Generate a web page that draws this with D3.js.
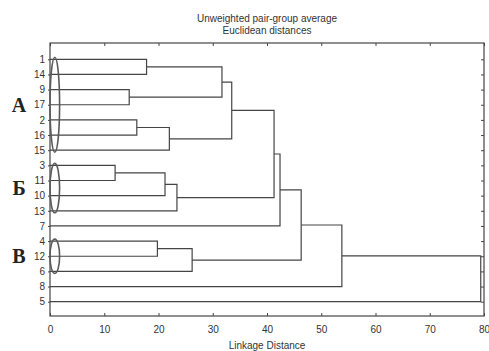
<!DOCTYPE html>
<html>
<head>
<meta charset="utf-8">
<script src="https://cdn.jsdelivr.net/npm/d3@7"></script>
<style>
  html, body { margin: 0; padding: 0; background: #fff; }
  svg { display: block; }
</style>
</head>
<body>
<svg id="chart" width="489" height="351"></svg>
<script>
// ---- data ----
const title1 = "Unweighted pair-group average";
const title2 = "Euclidean distances";
const xAxisTitle = "Linkage Distance";
const leaves = ["1","14","9","17","2","16","15","3","11","10","13","7","4","12","6","8","5"];
const xTicks = [0,10,20,30,40,50,60,70,80];
// linkage: node names, left child, right child, height (distance)
const mergeNames  = ["m1","m2","m3","m4","m5","m6","m7","m8","m9","m10","m11","m12","m13","m14","m15","m16"];
const mergeLeft   = ["1","9","2","m3","m1","m5","3","m7","m8","m6","m10","4","m12","m11","m14","m15"];
const mergeRight  = ["14","17","16","15","m2","m4","11","10","13","m9","7","12","6","m13","8","5"];
const mergeHeight = [17.8,14.6,16.0,22.0,31.7,33.5,12.0,21.2,23.4,41.3,42.4,19.8,26.2,46.3,53.8,79.4];
// groups marked with ellipses
const groupLabels = ["А","Б","В"];
const groupFirst  = ["1","3","4"];
const groupLast   = ["15","13","6"];

// ---- drawing ----
const svg = d3.select("#chart");
const L = 50, R = 484, T = 43, B = 316;
const stroke = "#454545";
const x = d3.scaleLinear().domain([0,80]).range([L,R]);
const y = d3.scalePoint().domain(leaves).range([59.3,301.7]).padding(0);

// titles
svg.append("text").attr("x",(L+R)/2).attr("y",22).attr("text-anchor","middle")
  .attr("font-family","Liberation Sans, Arial, sans-serif").attr("font-size",10).attr("fill","#333").text(title1);
svg.append("text").attr("x",(L+R)/2).attr("y",34).attr("text-anchor","middle")
  .attr("font-family","Liberation Sans, Arial, sans-serif").attr("font-size",10).attr("fill","#333").text(title2);

// node positions
const pos = {};
leaves.forEach(l => pos[l] = {x: x(0), y: y(l)});
const g = svg.append("g").attr("fill","none").attr("stroke",stroke).attr("stroke-width",1.2);
mergeNames.forEach((n,i) => {
  const a = pos[mergeLeft[i]], b = pos[mergeRight[i]];
  const hx = x(mergeHeight[i]);
  g.append("path").attr("d", `M${a.x},${a.y}H${hx}V${b.y}H${b.x}`);
  pos[n] = {x: hx, y: (a.y + b.y)/2};
});

// frame
svg.append("rect").attr("x",L).attr("y",T).attr("width",R-L).attr("height",B-T)
  .attr("fill","none").attr("stroke",stroke).attr("stroke-width",1.2);

// axes
const font = "Liberation Sans, Arial, sans-serif";
const xb = svg.append("g").attr("transform",`translate(0,${B})`)
  .call(d3.axisBottom(x).tickValues(xTicks).tickSizeInner(-3).tickSizeOuter(0).tickPadding(10));
const xt = svg.append("g").attr("transform",`translate(0,${T})`)
  .call(d3.axisTop(x).tickValues(xTicks).tickSizeInner(-3).tickSizeOuter(0).tickFormat(""));
const yl = svg.append("g").attr("transform",`translate(${L},0)`)
  .call(d3.axisLeft(y).tickSizeInner(2).tickSizeOuter(0).tickPadding(3));
const yr = svg.append("g").attr("transform",`translate(${R},0)`)
  .call(d3.axisRight(y).tickSizeInner(-3).tickSizeOuter(0).tickFormat(""));
[xb,xt,yl,yr].forEach(a => {
  a.select(".domain").remove();
  a.selectAll("line").attr("stroke",stroke);
  a.selectAll("text").attr("font-family",font).attr("font-size",10).attr("fill","#333");
});

svg.append("text").attr("x",(L+R)/2).attr("y",349).attr("text-anchor","middle")
  .attr("font-family",font).attr("font-size",10).attr("fill","#333").text(xAxisTitle);

// group ellipses and letters
groupLabels.forEach((lab,i) => {
  const y0 = y(groupFirst[i]) - 2, y1 = y(groupLast[i]) + 2;
  const cy = (y0+y1)/2;
  svg.append("ellipse").attr("cx",L+4.8).attr("cy",cy).attr("rx",4.8).attr("ry",(y1-y0)/2)
    .attr("fill","none").attr("stroke","#5a5a5a").attr("stroke-width",1.6);
  svg.append("text").attr("x",19).attr("y",cy+7).attr("text-anchor","middle")
    .attr("font-family","Liberation Serif, Times New Roman, serif").attr("font-weight","bold")
    .attr("font-size",20).attr("fill","#222").text(lab);
});
</script>
</body>
</html>
